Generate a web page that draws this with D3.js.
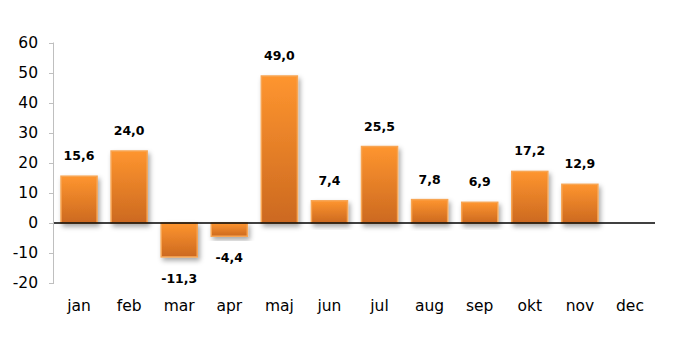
<!DOCTYPE html>
<html>
<head>
<meta charset="utf-8">
<script src="https://cdn.jsdelivr.net/npm/d3@7"></script>
<style>
  body { margin: 0; background: #fff; }
  text { font-family: Tahoma, "DejaVu Sans", sans-serif; }
</style>
</head>
<body>
<div id="chart"></div>
<script>
// data
var months = ["jan","feb","mar","apr","maj","jun","jul","aug","sep","okt","nov","dec"];
var values = [15.6, 24.0, -11.3, -4.4, 49.0, 7.4, 25.5, 7.8, 6.9, 17.2, 12.9, null];
var yTicks = [-20,-10,0,10,20,30,40,50,60];

var width = 691, height = 353;
var margin = {top: 43, right: 36, bottom: 70, left: 54};
var w = width - margin.left - margin.right,
    h = height - margin.top - margin.bottom;

var svg = d3.select("#chart").append("svg")
    .attr("width", width)
    .attr("height", height);

var defs = svg.append("defs");
var grad = defs.append("linearGradient")
    .attr("id","barGrad")
    .attr("x1","0").attr("y1","0").attr("x2","0").attr("y2","1");
grad.append("stop").attr("offset","0%").attr("stop-color","#fe952f");
grad.append("stop").attr("offset","100%").attr("stop-color","#cc6920");

var shadow = defs.append("filter").attr("id","shadow")
    .attr("x","-20%").attr("y","-20%").attr("width","150%").attr("height","150%");
shadow.append("feDropShadow")
    .attr("dx",2).attr("dy",3).attr("stdDeviation",2.5)
    .attr("flood-color","#000").attr("flood-opacity",0.35);

var g = svg.append("g")
    .attr("transform","translate(" + margin.left + "," + margin.top + ")");

var x = d3.scaleBand()
    .domain(months)
    .range([0, w])
    .paddingInner(0.28)
    .paddingOuter(0.14);

var y = d3.scaleLinear()
    .domain([-20, 60])
    .range([h, 0]);

// y axis
var yAxis = g.append("g")
    .call(d3.axisLeft(y).tickValues(yTicks).tickSize(5).tickPadding(11)
        .tickFormat(function(d){ return String(d); }));
yAxis.select(".domain").attr("stroke","#bfbfbf").attr("d","M-0.5," + (y(-20)+0.5) + "V" + (y(60)-0.5));
yAxis.selectAll(".tick line").attr("stroke","#bfbfbf");
yAxis.selectAll(".tick text")
    .style("font-size","15.5px")
    .attr("fill","#000");

// bars
var data = months.map(function(m,i){ return {m: m, v: values[i]}; })
    .filter(function(d){ return d.v !== null; });

g.selectAll(".bar")
    .data(data)
    .enter().append("rect")
    .attr("class","bar")
    .attr("x", function(d){ return x(d.m); })
    .attr("y", function(d){ return y(Math.max(0, d.v)); })
    .attr("width", x.bandwidth())
    .attr("height", function(d){ return Math.abs(y(d.v) - y(0)); })
    .attr("fill","url(#barGrad)")
    .attr("stroke","#f7a553")
    .attr("stroke-width",1.5)
    .attr("filter","url(#shadow)");

// zero line
g.append("line")
    .attr("x1", 0).attr("x2", w)
    .attr("y1", y(0)).attr("y2", y(0))
    .style("stroke","#000")
    .style("stroke-width","1.5px");

// value labels
var fmt = function(v){ return v.toFixed(1).replace(".", ","); };
g.selectAll(".lbl")
    .data(data)
    .enter().append("text")
    .attr("class","lbl")
    .attr("x", function(d){ return x(d.m) + x.bandwidth()/2; })
    .attr("y", function(d){ return d.v >= 0 ? y(d.v) - 16 : y(d.v) + 26; })
    .attr("text-anchor","middle")
    .style("font-size","12.5px")
    .style("font-weight","bold")
    .text(function(d){ return fmt(d.v); });

// month labels
g.selectAll(".mon")
    .data(months)
    .enter().append("text")
    .attr("class","mon")
    .attr("x", function(d){ return x(d) + x.bandwidth()/2; })
    .attr("y", h + 28)
    .attr("text-anchor","middle")
    .style("font-size","15.5px")
    .text(function(d){ return d; });
</script>
</body>
</html>
